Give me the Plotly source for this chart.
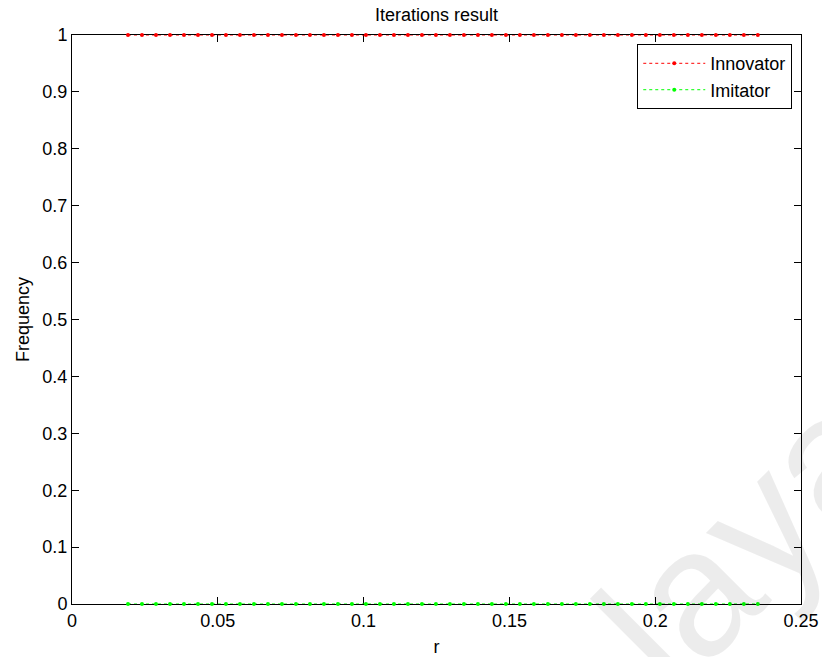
import plotly.graph_objects as go

r_values = [0.0192, 0.0240, 0.0288, 0.0336, 0.0384, 0.0432, 0.0480, 0.0528, 0.0576, 0.0624,
            0.0672, 0.0720, 0.0768, 0.0816, 0.0864, 0.0912, 0.0960, 0.1008, 0.1056, 0.1104,
            0.1152, 0.1200, 0.1248, 0.1296, 0.1344, 0.1392, 0.1440, 0.1488, 0.1536, 0.1584,
            0.1632, 0.1680, 0.1728, 0.1776, 0.1824, 0.1872, 0.1920, 0.1968, 0.2016, 0.2064,
            0.2112, 0.2160, 0.2208, 0.2256, 0.2304, 0.2352]
innovator = [1.0] * 46
imitator = [0.0] * 46

x_ticks = [0, 0.05, 0.1, 0.15, 0.2, 0.25]
x_tick_labels = ["0", "0.05", "0.1", "0.15", "0.2", "0.25"]
y_ticks = [0, 0.1, 0.2, 0.3, 0.4, 0.5, 0.6, 0.7, 0.8, 0.9, 1]
y_tick_labels = ["0", "0.1", "0.2", "0.3", "0.4", "0.5", "0.6", "0.7", "0.8", "0.9", "1"]

FONT = "Liberation Sans, Arial, sans-serif"
FS = 18

fig = go.Figure()
fig.add_trace(go.Scatter(x=r_values, y=innovator, name="Innovator", mode="lines+markers",
                         line=dict(color="#ff0000", width=1, dash="dot"),
                         marker=dict(color="#ff0000", size=4), cliponaxis=False))
fig.add_trace(go.Scatter(x=r_values, y=imitator, name="Imitator", mode="lines+markers",
                         line=dict(color="#00ff00", width=1, dash="dot"),
                         marker=dict(color="#00ff00", size=4), cliponaxis=False))

fig.add_annotation(text="laya", xref="paper", yref="paper", x=0.925, y=0.115,
                   xanchor="center", yanchor="middle",
                   showarrow=False, textangle=-45,
                   font=dict(family=FONT, size=180, color="rgba(0,0,0,0.075)"))

axis_common = dict(showline=True, linecolor="black", linewidth=1, mirror="allticks",
                   ticks="inside", ticklen=7, tickcolor="black", showgrid=False,
                   zeroline=False, tickfont=dict(family=FONT, size=FS, color="black"),
                   layer="below traces", automargin=False)

fig.update_layout(
    width=822, height=657,
    margin=dict(l=72, r=21, t=35, b=53),
    paper_bgcolor="white", plot_bgcolor="white",
    title=dict(text="Iterations result", x=0.531, xanchor="center", y=0.977, yanchor="middle",
               font=dict(family=FONT, size=FS, color="black")),
    xaxis=dict(range=[0, 0.25], tickvals=x_ticks, ticktext=x_tick_labels,
               title=dict(text="r", font=dict(family=FONT, size=FS, color="black"), standoff=12),
               **axis_common),
    yaxis=dict(range=[0, 1], tickvals=y_ticks, ticktext=y_tick_labels,
               title=dict(text="Frequency", font=dict(family=FONT, size=FS, color="black"), standoff=8),
               **axis_common),
    legend=dict(x=0.988, y=0.984, xanchor="right", yanchor="top",
                bgcolor="white", bordercolor="black", borderwidth=1, itemwidth=62,
                font=dict(family=FONT, size=FS, color="black")),
    showlegend=True,
)

fig.write_html("out.html")
